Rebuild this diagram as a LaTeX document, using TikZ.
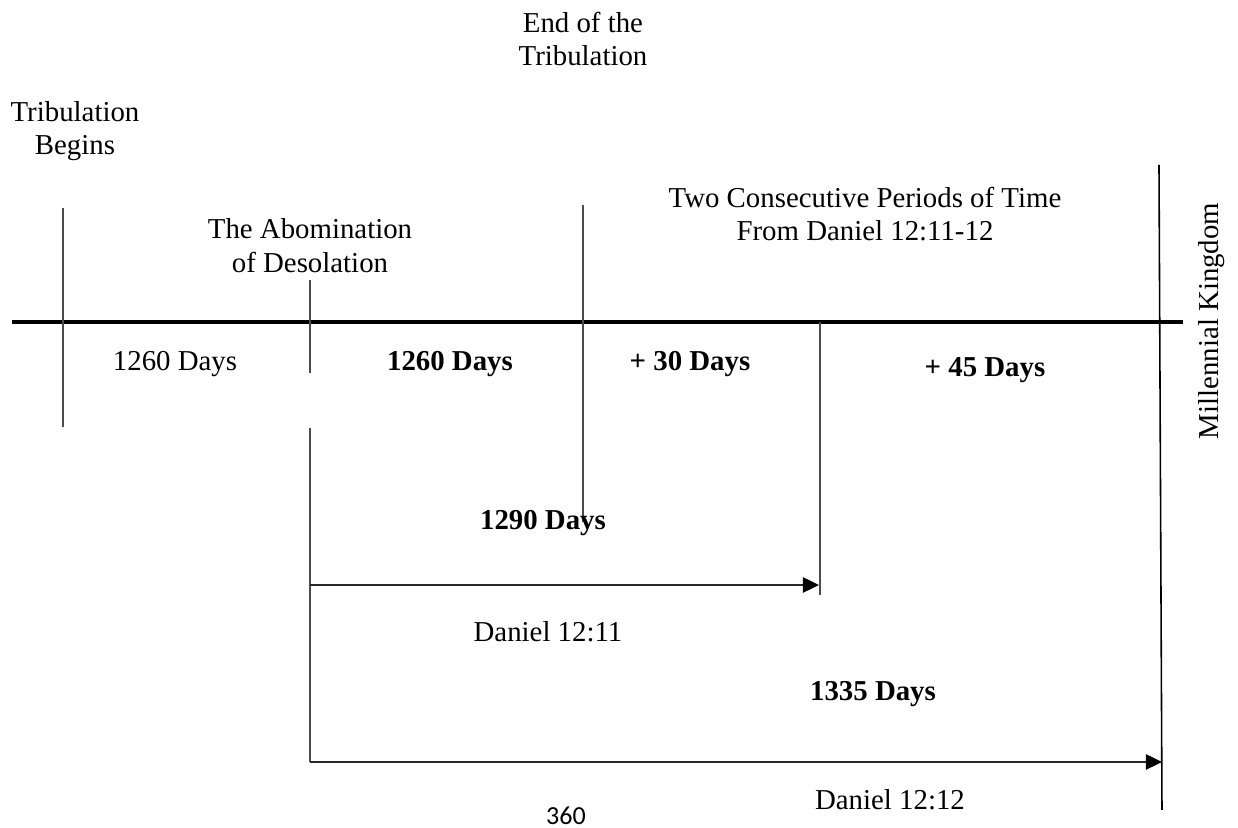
\documentclass[tikz,border=0pt]{standalone}
\usepackage{fontspec}
\setmainfont{Liberation Serif}
\newfontfamily\numfont{Carlito}
\usetikzlibrary{arrows.meta}
\begin{document}
\begin{tikzpicture}[x=0.01cm,y=-0.01cm,
  lbl/.style={inner sep=0pt,align=center,font=\fontsize{8.2}{9.6}\selectfont},
  blbl/.style={lbl,font=\fontsize{8.2}{9.6}\selectfont\bfseries},
  tick/.style={draw=black!70,line width=0.45pt},
  mainline/.style={draw=black,line width=0.9pt},
  span/.style={draw=black!85,line width=0.4pt,-{Triangle[length=4.6pt,width=4.4pt,color=black]}}]
\useasboundingbox (0,0) rectangle (1238,828);
% coordinates
\coordinate (mL) at (12,322);
\coordinate (mR) at (1183,322);
\coordinate (aT) at (63,208);
\coordinate (aB) at (63,427);
\coordinate (bT) at (310,280);
\coordinate (bM) at (310,373);
\coordinate (bN) at (310,428);
\coordinate (bB) at (310,762);
\coordinate (b2) at (310,585);
\coordinate (cT) at (583,205);
\coordinate (cB) at (583,522);
\coordinate (dT) at (820,322);
\coordinate (dB) at (820,595);
\coordinate (d2) at (819,585);
\coordinate (eT) at (1159,165);
\coordinate (eB) at (1162,810);
\coordinate (e2) at (1162,762);
% lines
\draw[mainline] (mL) -- (mR);
\draw[tick] (aT) -- (aB);
\draw[tick] (bT) -- (bM);
\draw[tick] (bN) -- (bB);
\draw[tick] (cT) -- (cB);
\draw[tick] (dT) -- (dB);
\draw[draw=black,line width=0.45pt] (eT) -- (eB);
\draw[span] (b2) -- (d2);
\draw[span] (bB) -- (e2);
% labels
\node[lbl] (endtrib) at (583,39) {End of the\\Tribulation};
\node[lbl] (tribbeg) at (75,131) {Tribulation\\Begins};
\node[lbl] (abom) at (310,246) {The Abomination\\of Desolation};
\node[lbl] (twocons) at (865,214) {Two Consecutive Periods of Time\\From Daniel 12:11-12};
\node[lbl] (d1260a) at (175,364) {1260 Days};
\node[blbl] (d1260b) at (450,364) {1260 Days};
\node[blbl] (d30) at (690,364) {+ 30 Days};
\node[blbl] (d45) at (985,370) {+ 45 Days};
\node[blbl] (d1290) at (543,523) {1290 Days};
\node[lbl] (dan11) at (548,632) {Daniel 12:11};
\node[blbl] (d1335) at (873,694) {1335 Days};
\node[lbl] (dan12) at (890,800) {Daniel 12:12};
\node[inner sep=0pt,font=\numfont\fontsize{7.4}{8.5}\selectfont] (page) at (566,816) {360};
\node[lbl,rotate=90] (mill) at (1212,321) {Millennial Kingdom};
\end{tikzpicture}
\end{document}
